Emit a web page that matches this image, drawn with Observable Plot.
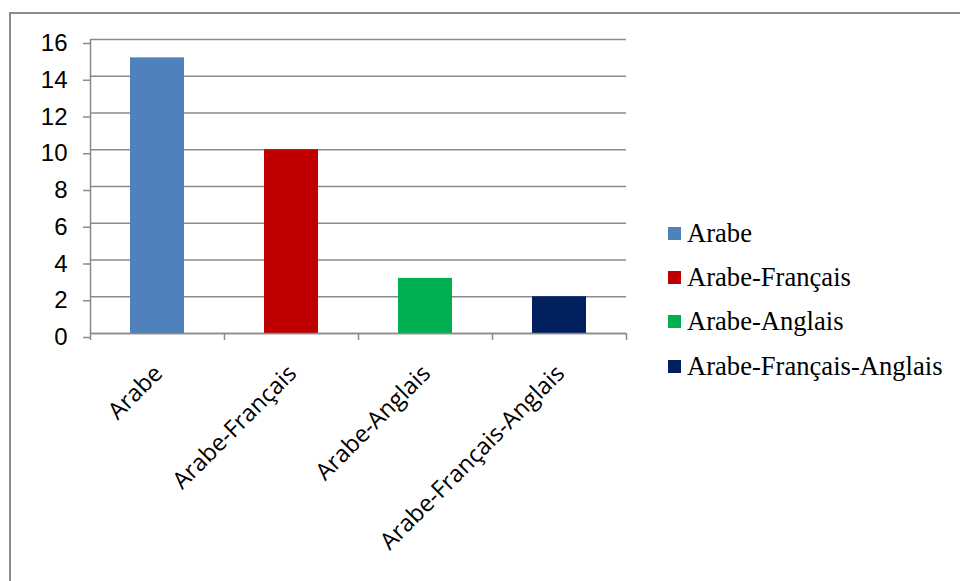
<!DOCTYPE html>
<html>
<head>
<meta charset="utf-8">
<script src="https://cdn.jsdelivr.net/npm/d3@7"></script>
<script src="https://cdn.jsdelivr.net/npm/@observablehq/plot@0.6"></script>
<style>
  html, body { margin: 0; padding: 0; background: #fff; }
  #wrap { position: relative; width: 960px; height: 581px; overflow: hidden; background: #fff; }
  #wrap svg.chart { position: absolute; left: 0; top: 0; }
  #frame { position: absolute; left: 9px; top: 12px; width: 1000px; height: 1000px;
           border: 2px solid #8c8c8c; box-sizing: border-box; pointer-events: none; }
  #legend { position: absolute; left: 668px; top: 211px; }
  #legend .lg-swatches { font-family: "Liberation Serif", "Times New Roman", serif; font-size: 26.6px; color: #000; margin: 0 !important; }
  #legend .lg-swatch { height: 44.3px; display: flex; align-items: center; padding: 0 !important; margin: 0 !important; }
  #legend .lg-swatch svg { margin-right: 6px !important; }
</style>
</head>
<body>
<div id="wrap"></div>
<script>
const categories = ["Arabe", "Arabe-Français", "Arabe-Anglais", "Arabe-Français-Anglais"];
const values = [15, 10, 3, 2];
const palette = ["#4F81BD", "#C00000", "#00B050", "#002060"];
const yTicks = [0, 2, 4, 6, 8, 10, 12, 14, 16];

const data = categories.map((c, i) => ({category: c, value: values[i]}));

const W = 960, H = 581, ML = 90, MR = 334, MT = 39, MB = 248;
const step = (W - ML - MR) / categories.length;
const gray = "#8a8a8a";

const chart = Plot.plot({
  width: W, height: H,
  marginLeft: ML, marginRight: MR, marginTop: MT, marginBottom: MB,
  className: "chart",
  style: {background: "transparent", overflow: "visible"},
  x: {domain: categories, paddingInner: 0.6, paddingOuter: 0.3, label: null},
  y: {domain: [0, 16], label: null},
  color: {domain: categories, range: palette},
  marks: [
    Plot.gridY(yTicks, {stroke: gray, strokeOpacity: 1, strokeWidth: 1.5}),
    Plot.barY(data, {x: "category", y: "value", fill: "category"}),
    Plot.ruleY([0], {stroke: gray, strokeWidth: 1.5}),
    Plot.ruleX([categories[0]], {x: d => d, dx: -step / 2, stroke: gray, strokeWidth: 1.5}),
    Plot.ruleX(categories, {x: d => d, dx: -step / 2, y1: 0, y2: 0, insetBottom: -7, stroke: gray, strokeWidth: 1.5}),
    Plot.ruleX([categories[categories.length - 1]], {x: d => d, dx: step / 2, y1: 0, y2: 0, insetBottom: -7, stroke: gray, strokeWidth: 1.5}),
    Plot.axisY({ticks: yTicks, tickSize: 7, tickPadding: 16, fontSize: 24, dy: 4,
                fontFamily: "'Liberation Sans', Arial, sans-serif", stroke: gray, strokeWidth: 1.5, fill: "#000", label: null}),
    Plot.axisX({tickRotate: -45, tickSize: 0, tickPadding: 36, dx: 1, fontSize: 23.5,
                fontFamily: "'Open Sans', sans-serif", fill: "#000", label: null})
  ]
});

const wrap = document.getElementById("wrap");
wrap.appendChild(chart);

const frame = document.createElement("div");
frame.id = "frame";
wrap.appendChild(frame);

const legendHolder = document.createElement("div");
legendHolder.id = "legend";
legendHolder.appendChild(Plot.legend({
  color: {domain: categories, range: palette},
  legend: "swatches", columns: 1, swatchSize: 13, className: "lg"
}));
wrap.appendChild(legendHolder);
</script>
</body>
</html>
